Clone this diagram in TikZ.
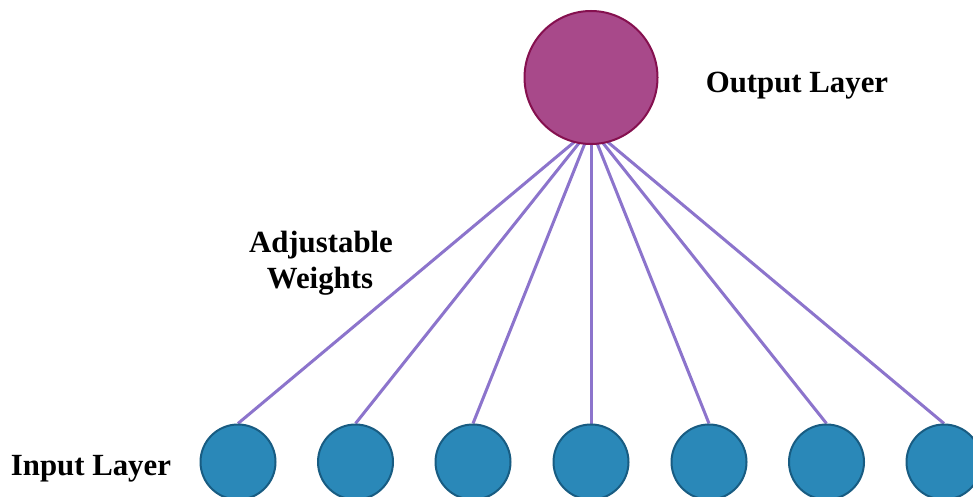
\documentclass[tikz,border=0pt]{standalone}
\usepackage{fontspec}
\setmainfont{Liberation Serif}
\definecolor{outfill}{HTML}{A8498A}
\definecolor{outborder}{HTML}{85104F}
\definecolor{infill}{HTML}{2A88B8}
\definecolor{inborder}{HTML}{185C82}
\definecolor{wcolor}{HTML}{8C74CC}
\pgfdeclarelayer{bg}
\pgfsetlayers{bg,main}
\begin{document}
\begin{tikzpicture}[x=1pt,y=-1pt,
  outnode/.style={circle, draw=outborder, fill=outfill, line width=2pt, minimum size=133pt, inner sep=0pt},
  innode/.style={circle, draw=inborder, fill=infill, line width=2pt, minimum size=75pt, inner sep=0pt},
  weight/.style={draw=wcolor, line width=3pt},
  lbl/.style={font=\fontsize{30.8}{30}\selectfont\bfseries, inner sep=0pt, anchor=base}]
\useasboundingbox (0,0) rectangle (973,497);
\clip (0,0) rectangle (973,497);
\begin{pgfonlayer}{bg}
  \fill[white] (0,0) rectangle (973,497);
\end{pgfonlayer}
\node[outnode] (out) at (591,77.5) {};
\coordinate (conv) at (591,128);
\foreach \i/\x in {1/238,2/355.5,3/473,4/591,5/709,6/826.5,7/944} {
  \node[innode] (in\i) at (\x,462) {};
  \begin{pgfonlayer}{bg}
    \draw[weight] (in\i.north) -- (conv);
  \end{pgfonlayer}
}
\node[lbl] (outlbl) at (797,93) {Output Layer};
\node[lbl] (inlbl) at (91,475) {Input Layer};
\node[lbl] (adj) at (321,252) {Adjustable};
\node[lbl] (wts) at (320,288) {Weights};
\end{tikzpicture}
\end{document}
